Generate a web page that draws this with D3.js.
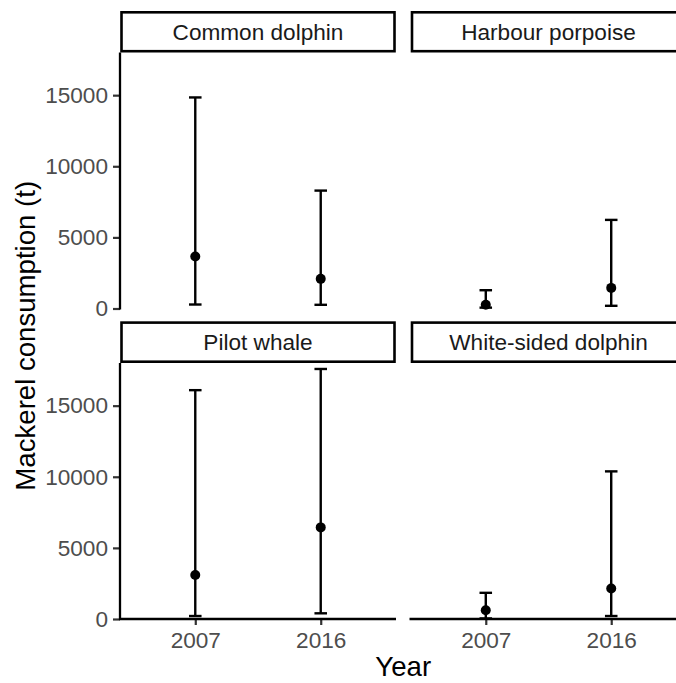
<!DOCTYPE html>
<html>
<head>
<meta charset="utf-8">
<script src="https://cdn.jsdelivr.net/npm/d3@7"></script>
<style>
  html, body { margin: 0; padding: 0; background: #fff; }
  svg { display: block; font-family: "Liberation Sans", Arial, sans-serif; }
</style>
</head>
<body>
<svg id="chart" width="676" height="683"></svg>
<script>
// Species panels, in facet order (row by row)
const species = ["Common dolphin", "Harbour porpoise", "Pilot whale", "White-sided dolphin"];
const years = ["2007", "2016"];

// Estimated mackerel consumption (t): point estimate with lower / upper bounds, per species, per year
const estimate = [
  [3650, 2085],   // Common dolphin
  [260, 1450],    // Harbour porpoise
  [3090, 6440],   // Pilot whale
  [620, 2150]     // White-sided dolphin
];
const lower = [
  [280, 260],
  [60, 190],
  [210, 400],
  [40, 210]
];
const upper = [
  [14840, 8290],
  [1285, 6230],
  [16090, 17580],
  [1840, 10380]
];

const yTicks = [0, 5000, 10000, 15000];
const yMax = 18000;

const svg = d3.select("#chart");

// Facet grid geometry
const colX = [[120, 396], [410.5, 686.5]];
const rowY = [{ stripTop: 11, top: 52.5, bottom: 308.5 }, { stripTop: 321.3, top: 363, bottom: 619 }];

const tickFont = 22.6;
const titleFont = 27.6;
const lineW = 2.4;

species.forEach((name, i) => {
  const col = i % 2, row = Math.floor(i / 2);
  const [x0, x1] = colX[col];
  const r = rowY[row];

  const x = d3.scalePoint().domain(years).range([x0, x1]).padding(0.6);
  const y = d3.scaleLinear().domain([0, yMax]).range([r.bottom, r.top]);
  const capHalf = x.step() * 0.05;

  const g = svg.append("g");

  // Strip
  const sw = 2.6;
  g.append("rect")
    .attr("x", x0 + sw / 2 + 0.2)
    .attr("y", r.stripTop + sw / 2)
    .attr("width", (x1 - x0) - sw - 0.4)
    .attr("height", (r.top - r.stripTop) - sw)
    .attr("fill", "#fff")
    .attr("stroke", "#000")
    .attr("stroke-width", sw);
  g.append("text")
    .attr("x", (x0 + x1) / 2)
    .attr("y", (r.stripTop + r.top) / 2)
    .attr("dy", "0.35em")
    .attr("text-anchor", "middle")
    .attr("font-size", tickFont)
    .attr("fill", "#1a1a1a")
    .text(name);

  // Y axis on left column
  if (col === 0) {
    const ya = g.append("g")
      .attr("transform", `translate(${x0},0)`)
      .call(d3.axisLeft(y).tickValues(yTicks).tickSize(7).tickSizeOuter(0).tickPadding(5).tickFormat(d3.format("d")));
    ya.select(".domain").remove();
    ya.selectAll(".tick line").attr("stroke", "#333").attr("stroke-width", 2.2);
    ya.selectAll(".tick text").attr("font-size", tickFont).attr("fill", "#4d4d4d")
      .attr("font-family", "Liberation Sans, Arial, sans-serif");
    g.append("line")
      .attr("x1", x0).attr("x2", x0)
      .attr("y1", r.top).attr("y2", r.bottom + 1)
      .attr("stroke", "#000").attr("stroke-width", 2.3);
  }

  // X axis on bottom row
  if (row === 1) {
    const xa = g.append("g")
      .attr("transform", `translate(0,${r.bottom})`)
      .call(d3.axisBottom(x).tickSize(6).tickSizeOuter(0).tickPadding(7));
    xa.select(".domain").remove();
    xa.selectAll(".tick line").attr("stroke", "#333").attr("stroke-width", 2.2);
    xa.selectAll(".tick text").attr("font-size", tickFont).attr("fill", "#4d4d4d")
      .attr("font-family", "Liberation Sans, Arial, sans-serif");
    g.append("line")
      .attr("x1", x0 - 1).attr("x2", x1)
      .attr("y1", r.bottom).attr("y2", r.bottom)
      .attr("stroke", "#000").attr("stroke-width", 2.3);
  }

  // Error bars and points
  const plot = g.append("g");
  years.forEach((yr, j) => {
    const cx = x(yr);
    const lo = y(lower[i][j]), hi = y(upper[i][j]);
    plot.append("line").attr("x1", cx).attr("x2", cx).attr("y1", lo).attr("y2", hi)
      .attr("stroke", "#000").attr("stroke-width", lineW);
    [lo, hi].forEach(v => {
      plot.append("line").attr("x1", cx - capHalf).attr("x2", cx + capHalf).attr("y1", v).attr("y2", v)
        .attr("stroke", "#000").attr("stroke-width", lineW);
    });
    plot.append("circle").attr("cx", cx).attr("cy", y(estimate[i][j])).attr("r", 5).attr("fill", "#000");
  });
});

// Axis titles
svg.append("text")
  .attr("x", (colX[0][0] + colX[1][1]) / 2)
  .attr("y", 676)
  .attr("text-anchor", "middle")
  .attr("font-size", titleFont)
  .attr("fill", "#000")
  .text("Year");

svg.append("text")
  .attr("transform", `translate(35,${(rowY[0].top + rowY[1].bottom) / 2}) rotate(-90)`)
  .attr("text-anchor", "middle")
  .attr("font-size", titleFont)
  .attr("fill", "#000")
  .text("Mackerel consumption (t)");
</script>
</body>
</html>
